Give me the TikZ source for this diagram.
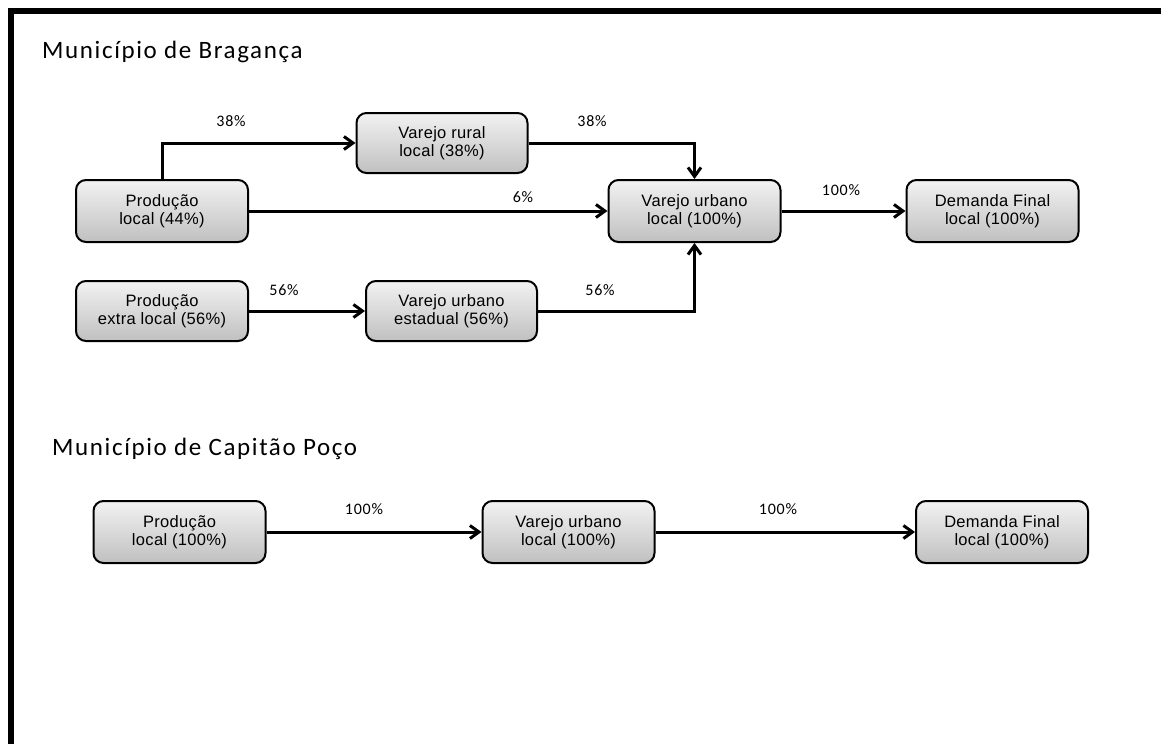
\documentclass[tikz,border=0pt]{standalone}
\usepackage{fontspec}
\setmainfont{Liberation Sans}
\newfontfamily\calfont{Carlito}
\usetikzlibrary{arrows.meta,shadings}
\definecolor{boxtop}{HTML}{F2F2F2}
\definecolor{boxbot}{HTML}{C0C0C0}
\tikzset{
  flowbox/.style={draw=black, line width=2pt, rounded corners=10pt,
    top color=boxtop, bottom color=boxbot, minimum width=172pt, minimum height=62pt,
    inner sep=0pt, align=center,
    font=\fontsize{16.5}{18.5}\selectfont\addfontfeature{LetterSpace=2}},
  arr/.style={line width=3pt, -{Straight Barb[length=9pt,width=13pt]}},
  pct/.style={inner sep=0pt, font=\calfont\fontsize{16}{18}\selectfont\addfontfeature{LetterSpace=5}},
  ttl/.style={inner sep=0pt, anchor=base west, font=\calfont\fontsize{25}{29}\selectfont\addfontfeature{LetterSpace=6.5}}
}
\begin{document}
\begin{tikzpicture}[x=1pt,y=-1pt]
\useasboundingbox (0,0) rectangle (1161,744);
\fill[white] (0,0) rectangle (1161,744);
\draw[line width=6pt, line join=miter] (1161,11) -- (11,11) -- (11,744);

\node[ttl] (t1) at (42,58) {Município de Bragança};
\node[ttl] (t2) at (52,455) {Município de Capitão Poço};

% Braganca
\node[flowbox] (pl)  at (162,211) {Produção\\local (44\%)};
\node[flowbox, minimum width=171pt, minimum height=60pt] (vr)  at (442,143) {Varejo rural\\local (38\%)};
\node[flowbox] (vu)  at (694.5,211) {Varejo urbano\\local (100\%)};
\node[flowbox] (df)  at (992.5,211) {Demanda Final\\local (100\%)};
\node[flowbox, minimum height=60pt] (pel) at (162,311) {Produção\\extra local (56\%)};
\node[flowbox, minimum width=171pt, minimum height=60pt] (vue) at (451.5,311) {Varejo urbano\\estadual (56\%)};

\draw[arr] (pl.north) |- (vr.west);
\draw[arr] (vr.east) -| (vu.north);
\draw[arr] (pl.east) -- (vu.west);
\draw[arr] (vu.east) -- (df.west);
\draw[arr] (pel.east) -- (vue.west);
\draw[arr] (vue.east) -| (vu.south);

\node[pct] (l1) at (231,121.5) {38\%};
\node[pct] (l2) at (592,121.5) {38\%};
\node[pct] (l3) at (523,197) {6\%};
\node[pct] (l4) at (841,190) {100\%};
\node[pct] (l5) at (284,290) {56\%};
\node[pct] (l6) at (600,290) {56\%};

% Capitao Poco
\node[flowbox] (p2) at (179.5,532) {Produção\\local (100\%)};
\node[flowbox] (v2) at (568.5,532) {Varejo urbano\\local (100\%)};
\node[flowbox] (d2) at (1002,532) {Demanda Final\\local (100\%)};
\draw[arr] (p2.east) -- (v2.west);
\draw[arr] (v2.east) -- (d2.west);
\node[pct] (l7) at (364,509.5) {100\%};
\node[pct] (l8) at (778,509.5) {100\%};
\end{tikzpicture}
\end{document}
